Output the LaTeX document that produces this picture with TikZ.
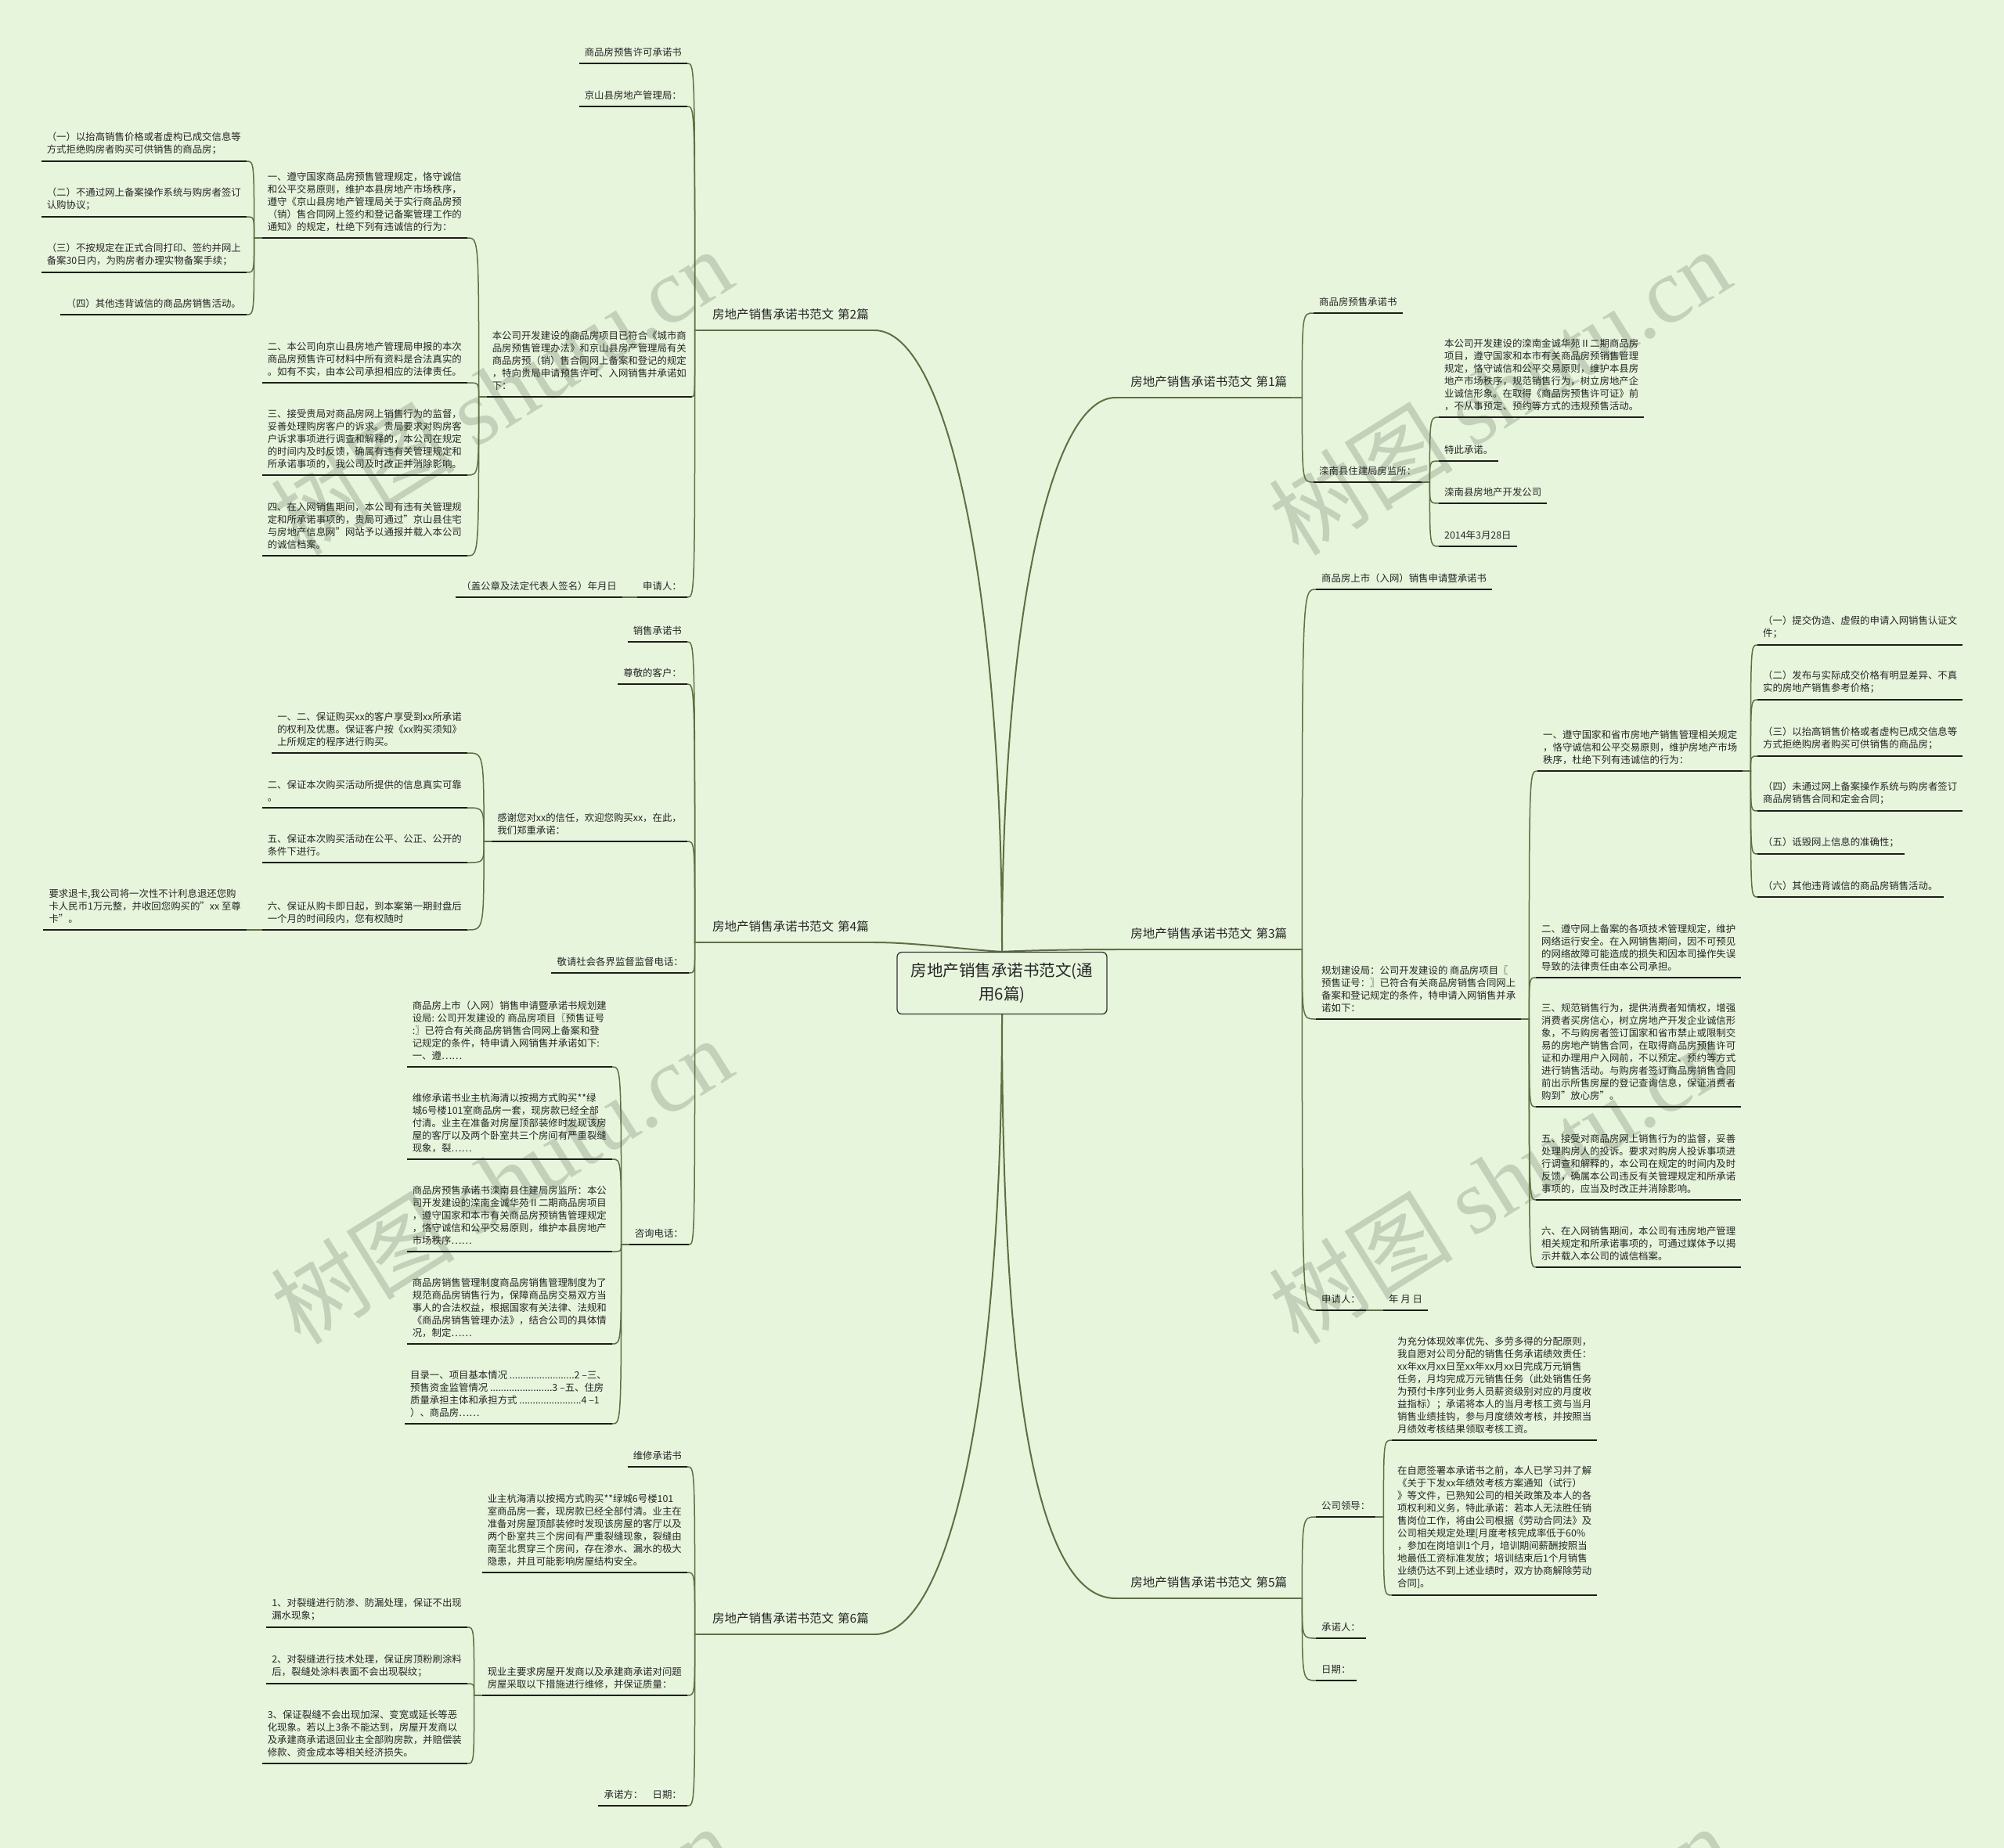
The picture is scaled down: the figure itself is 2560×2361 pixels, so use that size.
\documentclass[tikz,border=0pt]{standalone}
\usepackage{fontspec}
\setmainfont{Noto Sans CJK SC}
\newfontfamily\wmlatin{Liberation Serif}
\usetikzlibrary{calc,backgrounds}

\definecolor{bgc}{RGB}{232,245,221}
\definecolor{branch}{RGB}{96,110,66}
\definecolor{ulc}{RGB}{28,30,22}
\definecolor{wmc}{RGB}{188,201,178}
\newcommand{\leaffont}{\fontsize{12.4}{16}\selectfont}
\newcommand{\topicfont}{\fontsize{15.5}{18}\selectfont}
\newcommand{\rootfont}{\fontsize{20.5}{30}\selectfont}

\begin{document}
\begin{tikzpicture}[
  x=1pt, y=-1pt,
  font=\leaffont, text=black!85,
  root/.style={draw=black!80, line width=1.3pt, rounded corners=6pt, fill=bgc,
               align=center, font=\rootfont, minimum width=268pt, minimum height=79pt},
  topic/.style={font=\topicfont, text width=212pt, align=right, inner xsep=7pt, inner ysep=13pt,
               append after command={(\tikzlastnode.south west) edge[draw=branch, line width=1.5pt] (\tikzlastnode.south east)}},
  leaf/.style={align=left, inner xsep=7pt, inner ysep=8pt,
               append after command={(\tikzlastnode.south west) edge[draw=ulc, line width=2pt] (\tikzlastnode.south east)}},
  rleaf/.style={leaf, anchor=south west},
  lleaf/.style={leaf, anchor=south east},
  trunk/.style={draw=branch, line width=2pt},
  link/.style={draw=branch, line width=1.5pt},
  rlink/.style={to path={-- ++(#1,0) .. controls ($(\tikztostart |- \tikztotarget)+(#1,0)$) .. (\tikztotarget)}},
  rlink/.default=10,
  llink/.style={to path={-- ++(-#1,0) .. controls ($(\tikztostart |- \tikztotarget)+(-#1,0)$) .. (\tikztotarget)}},
  llink/.default=10,
  wmark/.style={text=wmc, font=\fontsize{118}{118}\selectfont, rotate=32, opacity=.8}
]
\useasboundingbox (0,0) rectangle (2560,2361);
\begin{scope}[on background layer]
\fill[bgc] (0,0) rectangle (2560,2361);
\node[wmark] (wm1) at (640,500) {树图 {\wmlatin shutu.cn}};
\node[wmark] (wm2) at (1915,500) {树图 {\wmlatin shutu.cn}};
\node[wmark] (wm3) at (640,1508) {树图 {\wmlatin shutu.cn}};
\node[wmark] (wm4) at (1915,1508) {树图 {\wmlatin shutu.cn}};
\node[wmark] (wm5) at (640,2515) {树图 {\wmlatin shutu.cn}};
\node[wmark] (wm6) at (1915,2515) {树图 {\wmlatin shutu.cn}};
\end{scope}

% --- 中心与六篇 ---
\node[root] (root) at (1280,1256) {房地产销售承诺书范文(通\\用6篇)};
\node[topic, anchor=south west] (s1) at (1425,508)  {房地产销售承诺书范文 第1篇};
\node[topic, anchor=south west] (s3) at (1425,1213) {房地产销售承诺书范文 第3篇};
\node[topic, anchor=south west] (s5) at (1425,2042) {房地产销售承诺书范文 第5篇};
\node[topic, anchor=south east] (s2) at (1117,422)  {房地产销售承诺书范文 第2篇};
\node[topic, anchor=south east] (s4) at (1117,1204) {房地产销售承诺书范文 第4篇};
\node[topic, anchor=south east] (s6) at (1117,2088) {房地产销售承诺书范文 第6篇};
\begin{scope}[on background layer]
\draw[trunk] (root.north) .. controls (1280,800) and (1340,508) .. (s1.south west);
\draw[trunk] (root.north) .. controls (1280,750) and (1210,422) .. (s2.south east);
\draw[trunk] (root.north) .. controls (1320,1214) and (1380,1213) .. (s3.south west);
\draw[trunk] (root.north) .. controls (1240,1214) and (1170,1204) .. (s4.south east);
\draw[trunk] (root.south) .. controls (1280,1750) and (1320,2042) .. (s5.south west);
\draw[trunk] (root.south) .. controls (1280,1780) and (1215,2088) .. (s6.south east);
\end{scope}

% --- 第1篇 ---
\node[rleaf] (s1a)  at (1678,400) {商品房预售承诺书};
\node[rleaf] (s1b)  at (1678,616) {滦南县住建局房监所：};
\node[rleaf] (s1b1) at (1838,533) {本公司开发建设的滦南金诚华苑Ⅱ二期商品房\\项目，遵守国家和本市有关商品房预销售管理\\规定，恪守诚信和公平交易原则，维护本县房\\地产市场秩序，规范销售行为，树立房地产企\\业诚信形象。在取得《商品房预售许可证》前\\，不从事预定、预约等方式的违规预售活动。};
\node[rleaf] (s1b2) at (1838,589) {特此承诺。};
\node[rleaf] (s1b3) at (1838,643) {滦南县房地产开发公司};
\node[rleaf] (s1b4) at (1838,698) {2014年3月28日};
\draw[link] (s1.south east) to[rlink=12] (s1a.south west); \draw[link] (s1.south east) to[rlink=12] (s1b.south west);
\draw[link] (s1b.south east) to[rlink] (s1b1.south west); \draw[link] (s1b.south east) to[rlink] (s1b2.south west);
\draw[link] (s1b.south east) to[rlink] (s1b3.south west); \draw[link] (s1b.south east) to[rlink] (s1b4.south west);

% --- 第3篇 ---
\node[rleaf] (s3a)  at (1681,753)  {商品房上市（入网）销售申请暨承诺书};
\node[rleaf] (s3b)  at (1681,1302) {规划建设局：公司开发建设的 商品房项目〖\\预售证号：〗已符合有关商品房销售合同网上\\备案和登记规定的条件，特申请入网销售并承\\诺如下：};
\node[rleaf] (s3b1) at (1964,985)  {一、遵守国家和省市房地产销售管理相关规定\\，恪守诚信和公平交易原则，维护房地产市场\\秩序，杜绝下列有违诚信的行为：};
\node[rleaf] (s3x1) at (2245,824)  {（一）提交伪造、虚假的申请入网销售认证文\\件；};
\node[rleaf] (s3x2) at (2245,894)  {（二）发布与实际成交价格有明显差异、不真\\实的房地产销售参考价格；};
\node[rleaf] (s3x3) at (2245,966)  {（三）以抬高销售价格或者虚构已成交信息等\\方式拒绝购房者购买可供销售的商品房；};
\node[rleaf] (s3x4) at (2245,1036) {（四）未通过网上备案操作系统与购房者签订\\商品房销售合同和定金合同；};
\node[rleaf] (s3x5) at (2245,1091) {（五）诋毁网上信息的准确性；};
\node[rleaf] (s3x6) at (2245,1146) {（六）其他违背诚信的商品房销售活动。};
\node[rleaf] (s3b2) at (1962,1249) {二、遵守网上备案的各项技术管理规定，维护\\网络运行安全。在入网销售期间，因不可预见\\的网络故障可能造成的损失和因本司操作失误\\导致的法律责任由本公司承担。};
\node[rleaf] (s3b3) at (1962,1414) {三、规范销售行为，提供消费者知情权，增强\\消费者买房信心，树立房地产开发企业诚信形\\象，不与购房者签订国家和省市禁止或限制交\\易的房地产销售合同，在取得商品房预售许可\\证和办理用户入网前，不以预定、预约等方式\\进行销售活动。与购房者签订商品房销售合同\\前出示所售房屋的登记查询信息，保证消费者\\购到"放心房"。};
\node[rleaf] (s3b4) at (1962,1533) {五、接受对商品房网上销售行为的监督，妥善\\处理购房人的投诉。要求对购房人投诉事项进\\行调查和解释的，本公司在规定的时间内及时\\反馈，确属本公司违反有关管理规定和所承诺\\事项的，应当及时改正并消除影响。};
\node[rleaf] (s3b5) at (1962,1619) {六、在入网销售期间，本公司有违房地产管理\\相关规定和所承诺事项的，可通过媒体予以揭\\示并载入本公司的诚信档案。};
\node[rleaf] (s3c)  at (1681,1674) {申请人：};
\node[rleaf] (s3c1) at (1767,1674) {年 月 日};
\draw[link] (s3.south east) to[rlink=12] (s3a.south west); \draw[link] (s3.south east) to[rlink=12] (s3b.south west);
\draw[link] (s3.south east) to[rlink=12] (s3c.south west); \draw[link] (s3c.south east) to[rlink] (s3c1.south west);
\draw[link] (s3b.south east) to[rlink] (s3b1.south west); \draw[link] (s3b.south east) to[rlink] (s3b2.south west);
\draw[link] (s3b.south east) to[rlink] (s3b3.south west); \draw[link] (s3b.south east) to[rlink] (s3b4.south west);
\draw[link] (s3b.south east) to[rlink] (s3b5.south west);
\draw[link] (s3b1.south east) to[rlink] (s3x1.south west); \draw[link] (s3b1.south east) to[rlink] (s3x2.south west);
\draw[link] (s3b1.south east) to[rlink] (s3x3.south west); \draw[link] (s3b1.south east) to[rlink] (s3x4.south west);
\draw[link] (s3b1.south east) to[rlink] (s3x5.south west); \draw[link] (s3b1.south east) to[rlink] (s3x6.south west);

% --- 第5篇 ---
\node[rleaf] (s5a)  at (1681,1938) {公司领导：};
\node[rleaf] (s5a1) at (1778,1840) {为充分体现效率优先、多劳多得的分配原则，\\我自愿对公司分配的销售任务承诺绩效责任：\\xx年xx月xx日至xx年xx月xx日完成万元销售\\任务，月均完成万元销售任务（此处销售任务\\为预付卡序列业务人员薪资级别对应的月度收\\益指标）；承诺将本人的当月考核工资与当月\\销售业绩挂钩，参与月度绩效考核，并按照当\\月绩效考核结果领取考核工资。};
\node[rleaf] (s5a2) at (1778,2038) {在自愿签署本承诺书之前，本人已学习并了解\\《关于下发xx年绩效考核方案通知（试行）\\》等文件，已熟知公司的相关政策及本人的各\\项权利和义务，特此承诺：若本人无法胜任销\\售岗位工作，将由公司根据《劳动合同法》及\\公司相关规定处理[月度考核完成率低于60\%\\，参加在岗培训1个月，培训期间薪酬按照当\\地最低工资标准发放；培训结束后1个月销售\\业绩仍达不到上述业绩时，双方协商解除劳动\\合同]。};
\node[rleaf] (s5b)  at (1681,2093) {承诺人：};
\node[rleaf] (s5c)  at (1681,2147) {日期：};
\draw[link] (s5.south east) to[rlink=12] (s5a.south west); \draw[link] (s5.south east) to[rlink=12] (s5b.south west);
\draw[link] (s5.south east) to[rlink=12] (s5c.south west);
\draw[link] (s5a.south east) to[rlink] (s5a1.south west); \draw[link] (s5a.south east) to[rlink] (s5a2.south west);

% --- 第2篇 ---
\node[lleaf] (s2a)  at (878,81)  {商品房预售许可承诺书};
\node[lleaf] (s2b)  at (878,136) {京山县房地产管理局：};
\node[lleaf] (s2c)  at (884,507) {本公司开发建设的商品房项目已符合《城市商\\品房预售管理办法》和京山县房产管理局有关\\商品房预（销）售合同网上备案和登记的规定\\，特向贵局申请预售许可、入网销售并承诺如\\下：};
\node[lleaf] (s2c1) at (597,304) {一、遵守国家商品房预售管理规定，恪守诚信\\和公平交易原则，维护本县房地产市场秩序，\\遵守《京山县房地产管理局关于实行商品房预\\（销）售合同网上签约和登记备案管理工作的\\通知》的规定，杜绝下列有违诚信的行为：};
\node[lleaf] (s2x1) at (315,206) {（一）以抬高销售价格或者虚构已成交信息等\\方式拒绝购房者购买可供销售的商品房；};
\node[lleaf] (s2x2) at (315,277) {（二）不通过网上备案操作系统与购房者签订\\认购协议；};
\node[lleaf] (s2x3) at (315,348) {（三）不按规定在正式合同打印、签约并网上\\备案30日内，为购房者办理实物备案手续；};
\node[lleaf] (s2x4) at (315,402) {（四）其他违背诚信的商品房销售活动。};
\node[lleaf] (s2c2) at (597,489) {二、本公司向京山县房地产管理局申报的本次\\商品房预售许可材料中所有资料是合法真实的\\。如有不实，由本公司承担相应的法律责任。};
\node[lleaf] (s2c3) at (597,607) {三、接受贵局对商品房网上销售行为的监督，\\妥善处理购房客户的诉求。贵局要求对购房客\\户诉求事项进行调查和解释的，本公司在规定\\的时间内及时反馈，确属有违有关管理规定和\\所承诺事项的，我公司及时改正并消除影响。};
\node[lleaf] (s2c4) at (597,710) {四、在入网销售期间，本公司有违有关管理规\\定和所承诺事项的，贵局可通过"京山县住宅\\与房地产信息网"网站予以通报并载入本公司\\的诚信档案。};
\node[lleaf] (s2d)  at (878,763) {申请人：};
\node[lleaf] (s2d1) at (795,763) {（盖公章及法定代表人签名）年月日};
\draw[link] (s2.south west) to[llink=3] (s2a.south east); \draw[link] (s2.south west) to[llink=3] (s2b.south east);
\draw[link] (s2.south west) to[llink=3] (s2c.south east); \draw[link] (s2.south west) to[llink=3] (s2d.south east);
\draw[link] (s2d.south west) to[llink] (s2d1.south east);
\draw[link] (s2c.south west) to[llink] (s2c1.south east); \draw[link] (s2c.south west) to[llink] (s2c2.south east);
\draw[link] (s2c.south west) to[llink] (s2c3.south east); \draw[link] (s2c.south west) to[llink] (s2c4.south east);
\draw[link] (s2c1.south west) to[llink] (s2x1.south east); \draw[link] (s2c1.south west) to[llink] (s2x2.south east);
\draw[link] (s2c1.south west) to[llink] (s2x3.south east); \draw[link] (s2c1.south west) to[llink] (s2x4.south east);

% --- 第4篇 ---
\node[lleaf] (s4a)  at (878,820)  {销售承诺书};
\node[lleaf] (s4b)  at (878,874)  {尊敬的客户：};
\node[lleaf] (s4c)  at (878,1075) {感谢您对xx的信任，欢迎您购买xx，在此，\\我们郑重承诺：};
\node[lleaf] (s4c1) at (597,962)  {一、二、保证购买xx的客户享受到xx所承诺\\的权利及优惠。保证客户按《xx购买须知》\\上所规定的程序进行购买。};
\node[lleaf] (s4c2) at (597,1032) {二、保证本次购买活动所提供的信息真实可靠\\。};
\node[lleaf] (s4c3) at (597,1102) {五、保证本次购买活动在公平、公正、公开的\\条件下进行。};
\node[lleaf] (s4c4) at (597,1188) {六、保证从购卡即日起，到本案第一期封盘后\\一个月的时间段内，您有权随时};
\node[lleaf] (s4c5) at (315,1188) {要求退卡,我公司将一次性不计利息退还您购\\卡人民币1万元整，并收回您购买的"xx 至尊\\卡"。};
\node[lleaf] (s4d)  at (880,1243) {敬请社会各界监督监督电话：};
\node[lleaf] (s4e)  at (880,1590) {咨询电话：};
\node[lleaf] (s4e1) at (782,1363) {商品房上市（入网）销售申请暨承诺书规划建\\设局: 公司开发建设的 商品房项目〖预售证号\\:〗已符合有关商品房销售合同网上备案和登\\记规定的条件，特申请入网销售并承诺如下:\\一、遵……};
\node[lleaf] (s4e2) at (782,1481) {维修承诺书业主杭海清以按揭方式购买**绿\\城6号楼101室商品房一套，现房款已经全部\\付清。业主在准备对房屋顶部装修时发现该房\\屋的客厅以及两个卧室共三个房间有严重裂缝\\现象，裂……};
\node[lleaf] (s4e3) at (782,1599) {商品房预售承诺书滦南县住建局房监所：本公\\司开发建设的滦南金诚华苑Ⅱ二期商品房项目\\，遵守国家和本市有关商品房预销售管理规定\\，恪守诚信和公平交易原则，维护本县房地产\\市场秩序……};
\node[lleaf] (s4e4) at (782,1717) {商品房销售管理制度商品房销售管理制度为了\\规范商品房销售行为，保障商品房交易双方当\\事人的合法权益，根据国家有关法律、法规和\\《商品房销售管理办法》，结合公司的具体情\\况，制定……};
\node[lleaf] (s4e5) at (782,1819) {目录一、项目基本情况 ........................2 –三、\\预售资金监管情况 .......................3 –五、住房\\质量承担主体和承担方式 .......................4 –1\\）、商品房……};
\draw[link] (s4.south west) to[llink=3] (s4a.south east); \draw[link] (s4.south west) to[llink=3] (s4b.south east);
\draw[link] (s4.south west) to[llink=3] (s4c.south east); \draw[link] (s4.south west) to[llink=3] (s4d.south east);
\draw[link] (s4.south west) to[llink=3] (s4e.south east);
\draw[link] (s4c.south west) to[llink] (s4c1.south east); \draw[link] (s4c.south west) to[llink] (s4c2.south east);
\draw[link] (s4c.south west) to[llink] (s4c3.south east); \draw[link] (s4c.south west) to[llink] (s4c4.south east);
\draw[link] (s4c4.south west) to[llink] (s4c5.south east);
\draw[link] (s4e.south west) to[llink] (s4e1.south east); \draw[link] (s4e.south west) to[llink] (s4e2.south east);
\draw[link] (s4e.south west) to[llink] (s4e3.south east); \draw[link] (s4e.south west) to[llink] (s4e4.south east);
\draw[link] (s4e.south west) to[llink] (s4e5.south east);

% --- 第6篇 ---
\node[lleaf] (s6a)  at (878,1874) {维修承诺书};
\node[lleaf] (s6b)  at (878,2009) {业主杭海清以按揭方式购买**绿城6号楼101\\室商品房一套，现房款已经全部付清。业主在\\准备对房屋顶部装修时发现该房屋的客厅以及\\两个卧室共三个房间有严重裂缝现象，裂缝由\\南至北贯穿三个房间，存在渗水、漏水的极大\\隐患，并且可能影响房屋结构安全。};
\node[lleaf] (s6c)  at (878,2166) {现业主要求房屋开发商以及承建商承诺对问题\\房屋采取以下措施进行维修，并保证质量：};
\node[lleaf] (s6c1) at (597,2079) {1、对裂缝进行防渗、防漏处理，保证不出现\\漏水现象；};
\node[lleaf] (s6c2) at (597,2151) {2、对裂缝进行技术处理，保证房顶粉刷涂料\\后，裂缝处涂料表面不会出现裂纹；};
\node[lleaf] (s6c3) at (597,2253) {3、保证裂缝不会出现加深、变宽或延长等恶\\化现象。若以上3条不能达到，房屋开发商以\\及承建商承诺退回业主全部购房款，并赔偿装\\修款、资金成本等相关经济损失。};
\node[lleaf] (s6d)  at (878,2307) {承诺方：\quad 日期：};
\draw[link] (s6.south west) to[llink=3] (s6a.south east); \draw[link] (s6.south west) to[llink=3] (s6b.south east);
\draw[link] (s6.south west) to[llink=3] (s6c.south east); \draw[link] (s6.south west) to[llink=3] (s6d.south east);
\draw[link] (s6c.south west) to[llink] (s6c1.south east); \draw[link] (s6c.south west) to[llink] (s6c2.south east);
\draw[link] (s6c.south west) to[llink] (s6c3.south east);
\end{tikzpicture}
\end{document}
